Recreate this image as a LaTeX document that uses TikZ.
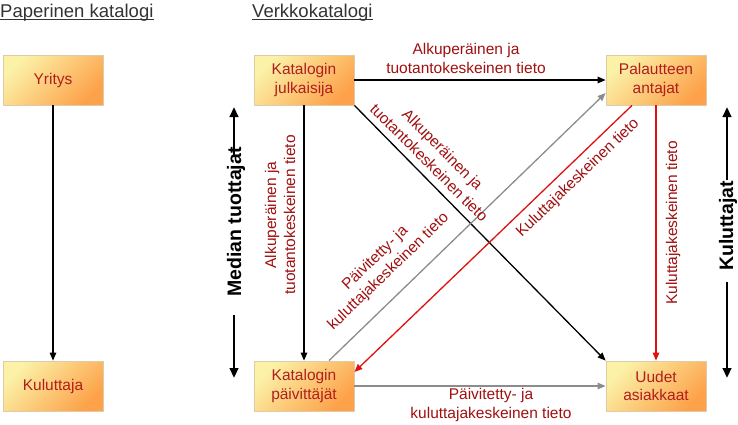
\documentclass[tikz,border=0pt]{standalone}
\usepackage{fontspec}
\setmainfont{Liberation Sans}
\usetikzlibrary{arrows.meta,calc}
\definecolor{boxtxt}{HTML}{B01E1E}
\definecolor{lblc}{HTML}{A01010}
\definecolor{redarr}{HTML}{E01010}
\definecolor{grayarr}{HTML}{8C8C8C}
\definecolor{boxtop}{HTML}{FBF2A8}
\definecolor{boxbot}{HTML}{FDA24A}
\definecolor{boxline}{HTML}{DCCCA8}
\definecolor{ttl}{HTML}{333333}
\begin{document}
\begin{tikzpicture}[x=1pt,y=-1pt,
  box/.style={draw=boxline, line width=0.8pt, top color=boxtop, bottom color=boxbot,
    shading angle=45, minimum width=100pt, minimum height=50pt, inner sep=0pt,
    align=center, text=boxtxt, font=\fontsize{15.5}{18.5}\selectfont},
  lbl/.style={text=lblc, font=\fontsize{15.5}{19}\selectfont, align=center, inner sep=0pt},
  ttlstyle/.style={text=ttl, font=\fontsize{18.5}{22}\selectfont, inner sep=0pt, anchor=base west},
  sidelbl/.style={font=\bfseries\fontsize{19.5}{23}\selectfont, inner sep=0pt, rotate=90},
  tipa/.style={-{Triangle[length=8pt,width=6.5pt]}},
  blk/.style={draw=black, line width=1.3pt, tipa},
  gry/.style={draw=grayarr, line width=1.3pt, tipa},
  rd/.style={draw=redarr, line width=1.3pt, tipa},
  side/.style={draw=black, line width=2.6pt, -{Triangle[length=10pt,width=8.5pt]}}
]
\useasboundingbox (0,0) rectangle (738,424);

% titles
\node[ttlstyle] (t1) at (0,17) {Paperinen katalogi};
\node[ttlstyle] (t2) at (252,17) {Verkkokatalogi};
\draw[ttl, line width=0.8pt] ($(t1.base west)+(0,2.5)$) -- ($(t1.base east)+(0,2.5)$);
\draw[ttl, line width=0.8pt] ($(t2.base west)+(0,2.5)$) -- ($(t2.base east)+(0,2.5)$);

% boxes
\node[box] (yri) at (53,80) {Yritys};
\node[box] (kul) at (53,386) {Kuluttaja};
\node[box] (jul) at (304,80) {Katalogin\\julkaisija};
\node[box] (pal) at (656,80) {Palautteen\\antajat};
\node[box] (pai) at (304,386) {Katalogin\\päivittäjät};
\node[box] (uud) at (656,386) {Uudet\\asiakkaat};

% connectors
\draw[blk] (yri.south) -- (kul.north);
\draw[blk] (jul.east) -- (pal.west);
\draw[blk] (jul.south) -- (pai.north);
\draw[blk] (jul.south east) -- (uud.north west);
\draw[gry] ([xshift=25pt]pai.north) -- ([yshift=-13pt]pal.west);
\draw[rd] ([xshift=-24pt]pal.south) -- ([yshift=14pt]pai.east);
\draw[rd] (pal.south) -- (uud.north);
\draw[gry] (pai.east) -- (uud.west);

% labels
\node[lbl] (l1) at (466,58) {Alkuperäinen ja\\tuotantokeskeinen tieto};
\node[lbl, rotate=90] (l2) at (280,215) {Alkuperäinen ja\\tuotantokeskeinen tieto};
\node[lbl, rotate=-45] (l3) at (436,156) {Alkuperäinen ja\\tuotantokeskeinen tieto};
\node[lbl, rotate=44] (l4) at (382,265) {Päivitetty- ja\\kuluttajakeskeinen tieto};
\node[lbl, rotate=44] (l5) at (578,178) {Kuluttajakeskeinen tieto};
\node[lbl, rotate=90] (l6) at (673,223) {Kuluttajakeskeinen tieto};
\node[lbl] (l7) at (491,405) {Päivitetty- ja\\kuluttajakeskeinen tieto};

% side indicators
\node[sidelbl] (mt) at (236,222) {Median tuottajat};
\coordinate (mtA) at (234,155);
\coordinate (mtB) at (234,107);
\coordinate (mtC) at (234,315);
\coordinate (mtD) at (234,378);
\draw[side] (mtA) -- (mtB);
\draw[side] (mtC) -- (mtD);

\node[sidelbl] (ku) at (728,226) {Kuluttajat};
\coordinate (kuA) at (727,180);
\coordinate (kuB) at (727,107);
\coordinate (kuC) at (727,282);
\coordinate (kuD) at (727,378);
\draw[side] (kuA) -- (kuB);
\draw[side] (kuC) -- (kuD);
\end{tikzpicture}
\end{document}
